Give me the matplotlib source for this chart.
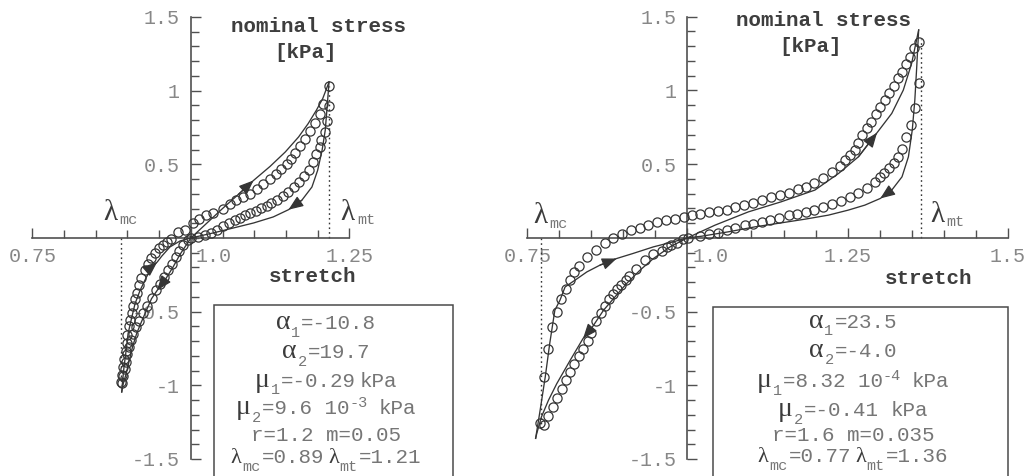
import matplotlib
matplotlib.use('Agg')
import matplotlib.pyplot as plt
from matplotlib.ticker import MultipleLocator
from matplotlib.transforms import IdentityTransform
from matplotlib.patches import Rectangle

plt.rcParams['axes.unicode_minus'] = False
MONO = 'Liberation Mono'
SERIF = 'Liberation Serif'

# ---------------- data: left panel ----------------
L_xlim = (0.75, 1.25)
L_xticks = [0.75, 1.0, 1.25]
L_xlabels = ['0.75', '1.0', '1.25']
y_ticks = [-1.5, -1.0, -0.5, 0.5, 1.0, 1.5]
y_labels = ['-1.5', '-1', '-0.5', '0.5', '1', '1.5']

# experimental points (circles)
L_tload_x = [0.968, 0.980, 0.991, 1.003, 1.013, 1.024, 1.035, 1.050, 1.062, 1.072, 1.083, 1.093, 1.104, 1.114,
             1.125, 1.135, 1.143, 1.151, 1.158, 1.165, 1.172, 1.180, 1.188, 1.196, 1.203, 1.209, 1.218]
L_tload_y = [-0.01, 0.04, 0.057, 0.10, 0.13, 0.154, 0.17, 0.20, 0.233, 0.256, 0.278, 0.30, 0.335, 0.364,
             0.398, 0.432, 0.47, 0.505, 0.538, 0.577, 0.622, 0.674, 0.726, 0.783, 0.844, 0.912, 1.03]
L_tunl_x = [1.218, 1.214, 1.212, 1.206, 1.203, 1.197, 1.192, 1.186, 1.178, 1.171, 1.163, 1.154, 1.145, 1.136,
            1.127, 1.120, 1.111, 1.103, 1.094, 1.086, 1.078, 1.069, 1.060, 1.050, 1.041, 1.032, 1.023, 1.012, 1.001]
L_tunl_y = [0.894, 0.794, 0.719, 0.667, 0.618, 0.568, 0.516, 0.464, 0.421, 0.380, 0.346, 0.312, 0.283, 0.260,
            0.238, 0.219, 0.201, 0.186, 0.170, 0.154, 0.138, 0.120, 0.102, 0.079, 0.057, 0.036, 0.018, 0.008, 0.0]
L_cload_x = [0.995, 0.988, 0.982, 0.976, 0.970, 0.964, 0.958, 0.951, 0.945, 0.938, 0.931, 0.925, 0.919, 0.914,
             0.909, 0.906, 0.903, 0.900, 0.898, 0.8955, 0.8935, 0.892]
L_cload_y = [-0.015, -0.05, -0.09, -0.13, -0.175, -0.22, -0.265, -0.31, -0.355, -0.41, -0.46, -0.51, -0.56, -0.605,
             -0.65, -0.695, -0.74, -0.785, -0.84, -0.89, -0.94, -0.985]
L_cunl_x = [0.890, 0.892, 0.893, 0.895, 0.897, 0.899, 0.900, 0.902, 0.904, 0.907, 0.909, 0.912, 0.915, 0.918,
            0.922, 0.927, 0.932, 0.937, 0.943, 0.950, 0.956, 0.962]
L_cunl_y = [-0.98, -0.93, -0.875, -0.82, -0.765, -0.71, -0.655, -0.60, -0.555, -0.51, -0.46, -0.415, -0.37, -0.32,
            -0.27, -0.22, -0.175, -0.135, -0.10, -0.07, -0.045, -0.025]

# model curves (lines)
L_m_tload_x = [1.0, 1.025, 1.050, 1.075, 1.099, 1.125, 1.149, 1.170, 1.185, 1.198, 1.208, 1.218]
L_m_tload_y = [0.0, 0.10, 0.20, 0.296, 0.391, 0.486, 0.584, 0.686, 0.776, 0.867, 0.946, 1.059]
L_m_tunl_x = [1.218, 1.215, 1.212, 1.207, 1.200, 1.191, 1.175, 1.154, 1.130, 1.099, 1.067, 1.035, 1.0]
L_m_tunl_y = [1.059, 0.889, 0.731, 0.595, 0.459, 0.346, 0.256, 0.192, 0.143, 0.102, 0.068, 0.034, 0.0]
L_m_cload_x = [1.0, 0.9935, 0.983, 0.972, 0.959, 0.947, 0.938, 0.930, 0.922, 0.9145, 0.908, 0.903, 0.898, 0.8935, 0.891]
L_m_cload_y = [0.0, -0.043, -0.111, -0.197, -0.287, -0.355, -0.412, -0.491, -0.570, -0.649, -0.740, -0.830, -0.921, -0.988, -1.045]
L_m_cunl_x = [0.891, 0.8925, 0.8946, 0.898, 0.901, 0.907, 0.912, 0.920, 0.930, 0.941, 0.947, 0.954, 0.967, 0.983, 1.0]
L_m_cunl_y = [-1.045, -0.966, -0.875, -0.762, -0.649, -0.536, -0.446, -0.355, -0.265, -0.185, -0.163, -0.124, -0.061, -0.020, 0.0]
L_arrow_idx = [4, 7, 5, 10]          # tension load, tension unload, compr. load, compr. unload

L_dot_x = [0.89, 1.218]
L_dot_y = [-1.0, 1.03]

# ---------------- data: right panel ----------------
R_xlim = (0.75, 1.5)
R_xticks = [0.75, 1.0, 1.25, 1.5]
R_xlabels = ['0.75', '1.0', '1.25', '1.5']

R_up_x = [0.770, 0.776, 0.783, 0.789, 0.796, 0.802, 0.810, 0.817, 0.823, 0.830, 0.843, 0.857, 0.871,
          0.884, 0.898, 0.912, 0.926, 0.939, 0.952, 0.966, 0.980, 0.994, 1.007, 1.020, 1.033, 1.047, 1.061,
          1.074, 1.089, 1.103, 1.117, 1.130, 1.144, 1.158, 1.172, 1.185, 1.198, 1.212, 1.225, 1.238, 1.246,
          1.254, 1.261, 1.267, 1.273, 1.280, 1.287, 1.294, 1.301, 1.308, 1.315, 1.322, 1.328, 1.335, 1.341,
          1.348, 1.354, 1.362]
R_up_y = [-1.256, -0.944, -0.751, -0.608, -0.502, -0.416, -0.344, -0.287, -0.231, -0.192, -0.133, -0.084, -0.038,
          0.002, 0.029, 0.052, 0.070, 0.090, 0.109, 0.120, 0.131, 0.143, 0.154, 0.165, 0.172, 0.181, 0.192,
          0.206, 0.222, 0.238, 0.256, 0.274, 0.290, 0.305, 0.328, 0.346, 0.369, 0.403, 0.448, 0.489, 0.527,
          0.561, 0.595, 0.640, 0.697, 0.742, 0.787, 0.839, 0.885, 0.934, 0.980, 1.029, 1.081, 1.127, 1.179,
          1.229, 1.285, 1.330]
R_dn_x = [1.362, 1.355, 1.349, 1.341, 1.335, 1.328, 1.322, 1.314, 1.307, 1.301, 1.293, 1.280, 1.267, 1.254,
          1.240, 1.225, 1.212, 1.198, 1.185, 1.171, 1.158, 1.143, 1.129, 1.116, 1.103, 1.090, 1.075, 1.061,
          1.048, 1.034, 1.020, 1.001, 0.9936, 0.983, 0.975, 0.968, 0.960, 0.947, 0.934, 0.920, 0.908, 0.904,
          0.897, 0.8896, 0.884, 0.878, 0.871, 0.865, 0.858, 0.850, 0.845, 0.8365, 0.830, 0.823, 0.817, 0.810,
          0.804, 0.796, 0.790, 0.783, 0.776]
R_dn_y = [1.052, 0.878, 0.765, 0.681, 0.606, 0.550, 0.505, 0.471, 0.441, 0.414, 0.380, 0.335, 0.301, 0.274,
          0.251, 0.229, 0.210, 0.192, 0.176, 0.165, 0.154, 0.138, 0.120, 0.109, 0.097, 0.084, 0.066, 0.052,
          0.034, 0.023, 0.011, 0.0, -0.011, -0.034, -0.050, -0.065, -0.088, -0.111, -0.151, -0.208, -0.260, -0.283,
          -0.321, -0.344, -0.382, -0.418, -0.464, -0.513, -0.563, -0.645, -0.699, -0.751, -0.803, -0.853, -0.910, -0.961,
          -1.023, -1.086, -1.147, -1.210, -1.272]

R_m_tload_x = [1.0, 1.043, 1.095, 1.146, 1.199, 1.236, 1.267, 1.296, 1.319, 1.337, 1.350, 1.361]
R_m_tload_y = [0.0, 0.086, 0.176, 0.244, 0.324, 0.437, 0.550, 0.713, 0.844, 1.002, 1.183, 1.41]
R_m_tunl_x = [1.361, 1.358, 1.355, 1.351, 1.345, 1.335, 1.319, 1.301, 1.277, 1.251, 1.220, 1.184, 1.147, 1.106, 1.064, 1.022, 1.0]
R_m_tunl_y = [1.41, 1.161, 0.934, 0.731, 0.550, 0.414, 0.324, 0.267, 0.222, 0.188, 0.154, 0.127, 0.102, 0.075, 0.041, 0.011, 0.0]
R_m_cload_x = [1.0, 0.973, 0.947, 0.926, 0.905, 0.887, 0.869, 0.850, 0.837, 0.817, 0.796, 0.783, 0.772, 0.7647, 0.763]
R_m_cload_y = [0.0, -0.061, -0.140, -0.219, -0.310, -0.400, -0.491, -0.615, -0.683, -0.830, -0.989, -1.102, -1.215, -1.328, -1.36]
R_m_cunl_x = [0.763, 0.770, 0.778, 0.785, 0.793, 0.801, 0.809, 0.8245, 0.843, 0.8635, 0.8896, 0.915, 0.947, 0.978, 1.0]
R_m_cunl_y = [-1.36, -1.170, -0.944, -0.717, -0.491, -0.423, -0.333, -0.287, -0.231, -0.185, -0.140, -0.106, -0.061, -0.027, 0.0]
R_arrow_idx = [7, 7, 8, 10]

R_dot_x = [0.771, 1.364]
R_dot_y = [-1.30, 1.35]

# parameter boxes
L_alpha = ['-10.8', '19.7']
L_mu = ['-0.29', '9.6 10']
L_mu_exp = ['', '-3']
L_rm = 'r=1.2 m=0.05'
L_lam = ['0.89', '1.21']
R_alpha = ['23.5', '-4.0']
R_mu = ['8.32 10', '-0.41']
R_mu_exp = ['-4', '']
R_rm = 'r=1.6 m=0.035'
R_lam = ['0.77', '1.36']

# ---------------- figure ----------------
W, H = 1035, 476
fig = plt.figure(figsize=(W / 100, H / 100), dpi=100)

AX_COL = '#505050'
TICK_COL = '#878787'
INK = '#353535'
TXT = '#767676'
GRK = '#3c3c3c'
LAB = '#3e3e3e'


def fpos(x0, x1, ytop, ybot):
    return [x0 / W, 1 - ybot / H, (x1 - x0) / W, (ybot - ytop) / H]


axL = fig.add_axes(fpos(32.33, 349.33, 17.0, 459.0))
axR = fig.add_axes(fpos(527.3, 1007.7, 16.7, 459.0))

XPAD = 6.5


def setup(ax, xlim, xt, xl):
    ax.set_xlim(*xlim)
    ax.set_ylim(-1.5, 1.5)
    ax.patch.set_visible(False)
    ax.spines['top'].set_visible(False)
    ax.spines['right'].set_visible(False)
    ax.spines['left'].set_position(('data', 1.0))
    ax.spines['bottom'].set_position(('data', 0.0))
    for s in ('left', 'bottom'):
        ax.spines[s].set_color(AX_COL)
        ax.spines[s].set_linewidth(1.2)
    ax.set_xticks(xt)
    ax.set_xticklabels(['' if t == 1.0 else l for t, l in zip(xt, xl)])
    ax.xaxis.set_minor_locator(MultipleLocator(0.05))
    ax.set_yticks(y_ticks)
    ax.set_yticklabels(y_labels)
    ax.yaxis.set_minor_locator(MultipleLocator(0.1))
    ax.tick_params(which='both', direction='in', color=AX_COL, width=1.0,
                   labelcolor=TICK_COL, labelsize=14.4)
    ax.tick_params(axis='x', which='major', length=7.5, pad=XPAD)
    ax.tick_params(axis='x', which='minor', length=6)
    ax.tick_params(axis='y', which='major', length=7.5, pad=8)
    ax.tick_params(axis='y', which='minor', length=5.5)
    for lab in ax.get_xticklabels() + ax.get_yticklabels():
        lab.set_family(MONO)
    for t, l in zip(xt, xl):
        if t == 1.0:
            ax.annotate(l, xy=(t, 0), xycoords='data', xytext=(16.5, -XPAD),
                        textcoords='offset points', ha='center', va='top',
                        family=MONO, fontsize=14.4, color=TICK_COL)


setup(axL, L_xlim, L_xticks, L_xlabels)
setup(axR, R_xlim, R_xticks, R_xlabels)

mk = dict(ls='none', marker='o', ms=6.6, mfc='none', mec=INK, mew=0.9, zorder=3)
ln = dict(color=INK, lw=0.95, zorder=4)


def arrow(ax, xs, ys, i):
    ax.annotate('', xy=(xs[i], ys[i]), xytext=(xs[i - 1], ys[i - 1]),
                arrowprops=dict(arrowstyle='-|>,head_length=0.9,head_width=0.36',
                                mutation_scale=10, color=INK, lw=0.9,
                                shrinkA=0, shrinkB=0), zorder=5)


# left data
for xs, ys in [(L_tload_x, L_tload_y), (L_tunl_x, L_tunl_y), (L_cload_x, L_cload_y), (L_cunl_x, L_cunl_y)]:
    axL.plot(xs, ys, **mk)
L_models = [(L_m_tload_x, L_m_tload_y), (L_m_tunl_x, L_m_tunl_y), (L_m_cload_x, L_m_cload_y), (L_m_cunl_x, L_m_cunl_y)]
for (xs, ys), i in zip(L_models, L_arrow_idx):
    axL.plot(xs, ys, **ln)
    arrow(axL, xs, ys, i)
for x, y in zip(L_dot_x, L_dot_y):
    axL.plot([x, x], [0, y], color=INK, lw=1.0, dashes=(1.2, 2.2), zorder=2)

# right data
for xs, ys in [(R_up_x, R_up_y), (R_dn_x, R_dn_y)]:
    axR.plot(xs, ys, **mk)
R_models = [(R_m_tload_x, R_m_tload_y), (R_m_tunl_x, R_m_tunl_y), (R_m_cload_x, R_m_cload_y), (R_m_cunl_x, R_m_cunl_y)]
for (xs, ys), i in zip(R_models, R_arrow_idx):
    axR.plot(xs, ys, **ln)
    arrow(axR, xs, ys, i)
for x, y in zip(R_dot_x, R_dot_y):
    axR.plot([x, x], [0, y], color=INK, lw=1.0, dashes=(1.2, 2.2), zorder=2)

# ---------------- texts ----------------
renderer = fig.canvas.get_renderer()


def rich(x, base, pieces, center=False):
    """pieces: (text, family, size, dy_px, color, gap_before_px)"""
    objs, widths = [], []
    for s, fam, size, dy, col, gap in pieces:
        t = fig.text(0, 0, s, family=fam, fontsize=size, color=col,
                     transform=IdentityTransform(), ha='left', va='baseline')
        if fam == MONO:
            w = len(s) * 0.6 * size * 100 / 72
        else:
            w = t.get_window_extent(renderer=renderer).width + 1
        objs.append((t, dy, gap))
        widths.append(w + gap)
    total = sum(widths)
    x0 = x - total / 2 if center else x
    for (t, dy, gap), w in zip(objs, widths):
        t.set_position((x0 + gap, H - base + dy))
        x0 += w


def ctext(x, y, s, **kw):
    fig.text(x / W, 1 - y / H, s, ha='center', va='center', **kw)


for cx, cy, cy2, sx, sy in [(318.7, 26, 52, 313, 276), (823.7, 20, 47, 928.7, 278.3)]:
    ctext(cx, cy, 'nominal stress', family=MONO, fontsize=15, weight='bold', color=LAB)
    ctext(cx - 13.5, cy2, '[kPa]', family=MONO, fontsize=15, weight='bold', color=LAB)
    ctext(sx, sy, 'stretch', family=MONO, fontsize=15, weight='bold', color=LAB)

# lambda markers on the axes
LAMS = 21
for lx, base, sub in [(103, 220, 'mc'), (340.7, 220, 'mt'), (533, 223, 'mc'), (930, 222, 'mt')]:
    rich(lx, base, [('λ', SERIF, LAMS, 0, GRK, 0), (sub, MONO, 11, -4.5, TXT, 1)])

# parameter boxes
for x0, x1, top in [(214.3, 453.3, 305.0), (713.3, 1007.7, 306.7)]:
    fig.patches.append(Rectangle((x0 / W, -0.02), (x1 - x0) / W, 1 - top / H + 0.02,
                                 transform=fig.transFigure, fill=False,
                                 edgecolor='#4a4a4a', lw=1.1))

GS, MS, SS = 20, 15, 11
SUB, SUP = -7.5, 7.0


def box(cx, bases, alpha, mu, mu_exp, rm, lam):
    lines = []
    for k in range(2):
        lines.append([('α', SERIF, GS, 0, GRK, 0), (str(k + 1), MONO, SS, SUB, TXT, 0),
                      ('=' + alpha[k], MONO, MS, 0, TXT, 1)])
    for k in range(2):
        p = [('μ', SERIF, GS, 0, GRK, 0), (str(k + 1), MONO, SS, SUB, TXT, 0),
             ('=' + mu[k], MONO, MS, 0, TXT, 1)]
        if mu_exp[k]:
            p.append((mu_exp[k], MONO, SS, SUP, TXT, 0))
            p.append(('kPa', MONO, MS, 0, TXT, 11))
        else:
            p.append(('kPa', MONO, MS, 0, TXT, 4 if k == 0 and mu is L_mu else 11))
        lines.append(p)
    lines.append([(rm, MONO, MS, 0, TXT, 0)])
    lines.append([('λ', SERIF, 16, 0, GRK, 0), ('mc', MONO, SS, -8, TXT, 0),
                  ('=' + lam[0], MONO, MS, 0, TXT, 1),
                  ('λ', SERIF, 16, 0, GRK, 4), ('mt', MONO, SS, -8, TXT, 0),
                  ('=' + lam[1], MONO, MS, 0, TXT, 1)])
    for b, p in zip(bases, lines):
        rich(cx, b, p, center=True)


box(326, [329.3, 358.3, 386.7, 414.3, 440.7, 463.3], L_alpha, L_mu, L_mu_exp, L_rm, L_lam)
box(853, [327.7, 356.7, 387.3, 416.0, 440.7, 462.3], R_alpha, R_mu, R_mu_exp, R_rm, R_lam)

fig.savefig('out.png', dpi=100)
